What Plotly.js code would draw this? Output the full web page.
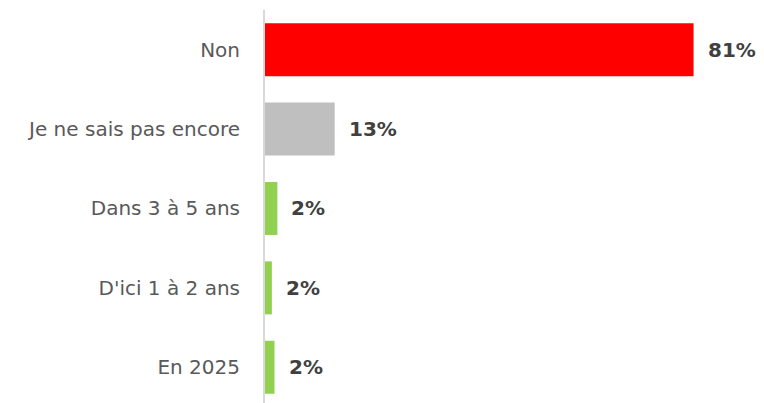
<!DOCTYPE html>
<html>
<head>
<meta charset="utf-8">
<script src="https://cdn.plot.ly/plotly-3.0.1.min.js"></script>
<style>html,body{margin:0;padding:0;background:#fff;}#chart{width:764px;height:403px;}</style>
</head>
<body>
<div id="chart"></div>
<script>
// Categories listed bottom to top
const categories = ["En 2025", "D'ici 1 à 2 ans", "Dans 3 à 5 ans", "Je ne sais pas encore", "Non"];
const values = [1.8, 1.3, 2.35, 13.2, 81.2];
const valueLabels = ["2%", "2%", "2%", "13%", "81%"];
const barColors = ["#92d050", "#92d050", "#92d050", "#bfbfbf", "#ff0000"];

const trace = {
  type: 'bar',
  orientation: 'h',
  y: categories,
  x: values,
  marker: {color: barColors, line: {width: 0}},
  hoverinfo: 'skip'
};

const annotations = categories.map((c, i) => ({
  x: values[i], y: c, xref: 'x', yref: 'y',
  text: valueLabels[i], showarrow: false,
  xanchor: 'left', yanchor: 'middle', xshift: 12,
  font: {family: 'DejaVu Sans', size: 20, color: '#404040', weight: 'bold'}
}));

const layout = {
  width: 764, height: 403,
  margin: {l: 265, r: 24, t: 10, b: 0},
  paper_bgcolor: '#ffffff', plot_bgcolor: '#ffffff',
  bargap: 0.333,
  showlegend: false,
  xaxis: {range: [0, 90], visible: false, showgrid: false, zeroline: false, fixedrange: true},
  yaxis: {
    type: 'category', range: [-0.45, 4.5],
    showline: true, linecolor: '#d9d9d9', linewidth: 2,
    showgrid: false, zeroline: false, ticks: '', ticklabelstandoff: 19,
    tickfont: {family: 'DejaVu Sans', size: 20, color: '#595959'},
    fixedrange: true
  },
  annotations: annotations
};

Plotly.newPlot('chart', [trace], layout, {displayModeBar: false, staticPlot: true});
</script>
</body>
</html>
